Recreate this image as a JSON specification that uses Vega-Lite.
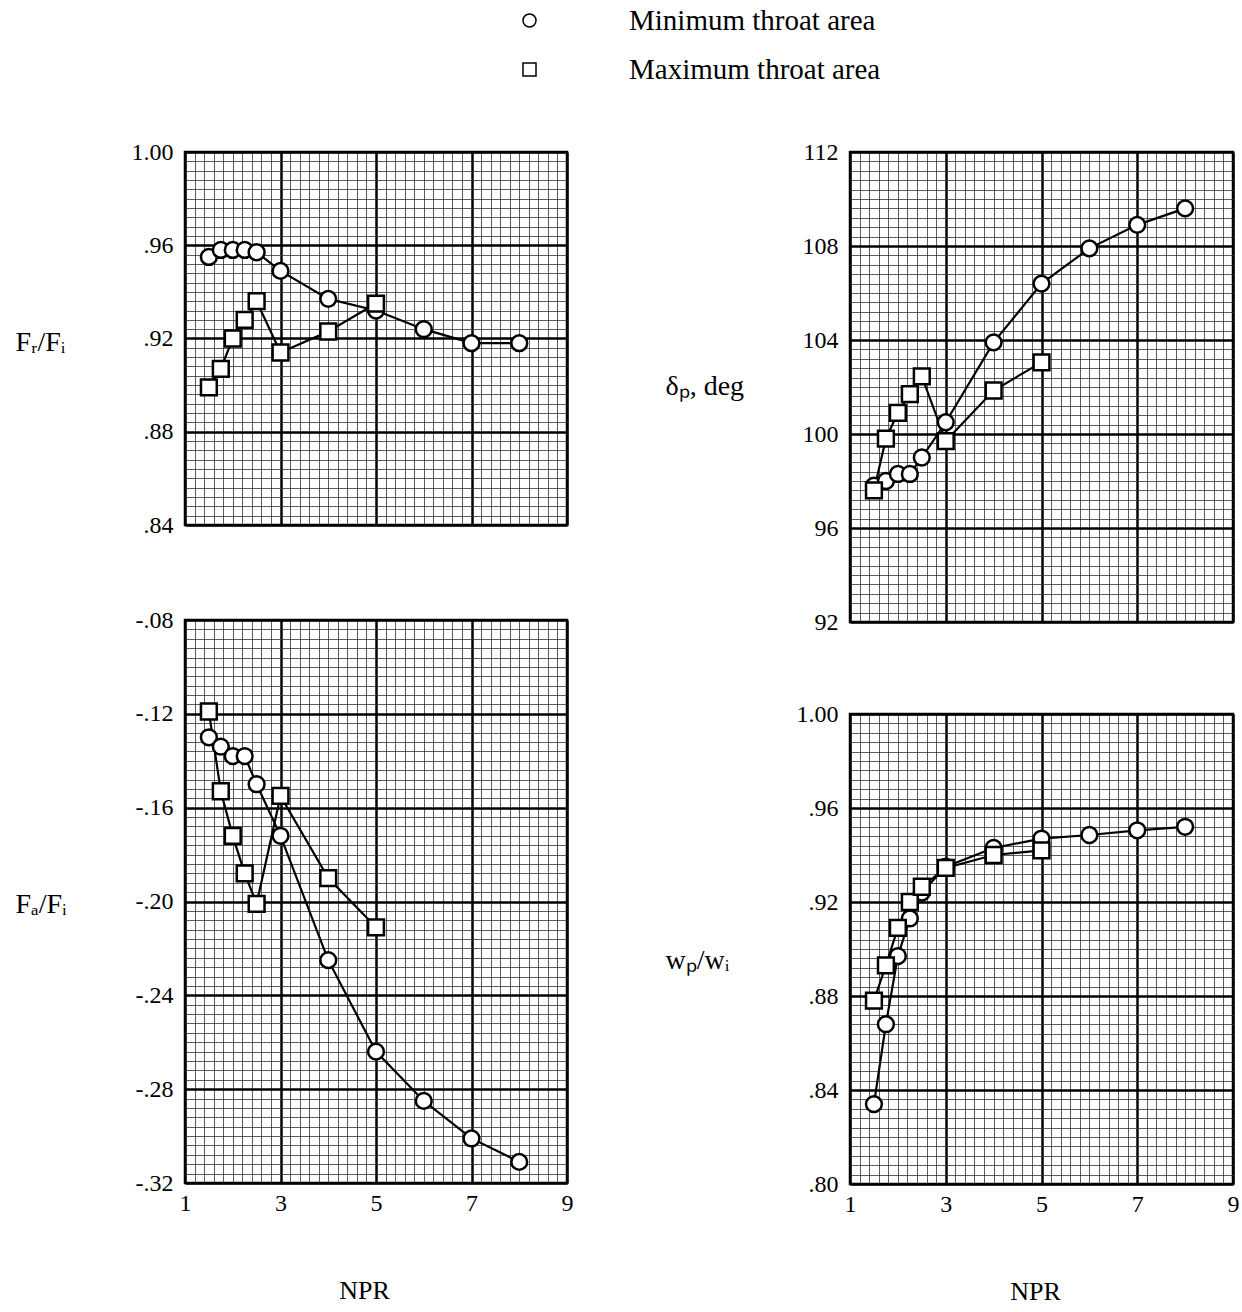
{
  "$schema": "https://vega.github.io/schema/vega-lite/v6.json",
  "background": "white",
  "padding": {"left": 13, "top": 6, "right": 0, "bottom": 0},
  "data": {"values": [
    {"series": "Minimum throat area", "NPR": 1.5, "FrFi": 0.955, "dp": 97.8, "FaFi": -0.130, "wpwi": 0.834},
    {"series": "Minimum throat area", "NPR": 1.75, "FrFi": 0.958, "dp": 98.0, "FaFi": -0.134, "wpwi": 0.868},
    {"series": "Minimum throat area", "NPR": 2.0, "FrFi": 0.958, "dp": 98.3, "FaFi": -0.138, "wpwi": 0.897},
    {"series": "Minimum throat area", "NPR": 2.25, "FrFi": 0.958, "dp": 98.3, "FaFi": -0.138, "wpwi": 0.913},
    {"series": "Minimum throat area", "NPR": 2.5, "FrFi": 0.957, "dp": 99.0, "FaFi": -0.150, "wpwi": 0.924},
    {"series": "Minimum throat area", "NPR": 3, "FrFi": 0.949, "dp": 100.5, "FaFi": -0.172, "wpwi": 0.935},
    {"series": "Minimum throat area", "NPR": 4, "FrFi": 0.937, "dp": 103.9, "FaFi": -0.225, "wpwi": 0.943},
    {"series": "Minimum throat area", "NPR": 5, "FrFi": 0.932, "dp": 106.4, "FaFi": -0.264, "wpwi": 0.947},
    {"series": "Minimum throat area", "NPR": 6, "FrFi": 0.924, "dp": 107.9, "FaFi": -0.285, "wpwi": 0.9485},
    {"series": "Minimum throat area", "NPR": 7, "FrFi": 0.918, "dp": 108.9, "FaFi": -0.301, "wpwi": 0.9505},
    {"series": "Minimum throat area", "NPR": 8, "FrFi": 0.918, "dp": 109.6, "FaFi": -0.311, "wpwi": 0.952},
    {"series": "Maximum throat area", "NPR": 1.5, "FrFi": 0.899, "dp": 97.6, "FaFi": -0.119, "wpwi": 0.878},
    {"series": "Maximum throat area", "NPR": 1.75, "FrFi": 0.907, "dp": 99.8, "FaFi": -0.153, "wpwi": 0.893},
    {"series": "Maximum throat area", "NPR": 2.0, "FrFi": 0.920, "dp": 100.9, "FaFi": -0.172, "wpwi": 0.909},
    {"series": "Maximum throat area", "NPR": 2.25, "FrFi": 0.928, "dp": 101.7, "FaFi": -0.188, "wpwi": 0.920},
    {"series": "Maximum throat area", "NPR": 2.5, "FrFi": 0.936, "dp": 102.45, "FaFi": -0.201, "wpwi": 0.9265},
    {"series": "Maximum throat area", "NPR": 3, "FrFi": 0.914, "dp": 99.7, "FaFi": -0.155, "wpwi": 0.9345},
    {"series": "Maximum throat area", "NPR": 4, "FrFi": 0.923, "dp": 101.85, "FaFi": -0.190, "wpwi": 0.940},
    {"series": "Maximum throat area", "NPR": 5, "FrFi": 0.935, "dp": 103.05, "FaFi": -0.211, "wpwi": 0.942}
  ]},
  "config": {
    "view": {"stroke": "black", "strokeWidth": 2.5},
    "font": "Liberation Serif",
    "axis": {
      "domain": false, "ticks": false, "grid": true,
      "labelFont": "Liberation Serif", "labelFontSize": 24, "labelColor": "black",
      "titleFont": "Liberation Serif", "titleFontSize": 28, "titleFontWeight": "normal", "titleColor": "black",
      "labelFlush": false, "labelOverlap": false, "labelPadding": 12, "gridOpacity": 1
    }
  },
  "hconcat": [
    {
      "vconcat": [
        {
          "width": 382, "height": 373,
          "encoding": {
            "x": {"field": "NPR", "type": "quantitative", "scale": {"domain": [1, 9], "nice": false, "zero": false},
              "axis": {"title": null, "labels": false,
                "values": [1,1.2,1.4,1.6,1.8,2,2.2,2.4,2.6,2.8,3,3.2,3.4,3.6,3.8,4,4.2,4.4,4.6,4.8,5,5.2,5.4,5.6,5.8,6,6.2,6.4,6.6,6.8,7,7.2,7.4,7.6,7.8,8,8.2,8.4,8.6,8.8,9],
                "gridWidth": {"condition": {"test": "abs((datum.value-1)/2 - round((datum.value-1)/2)) < 0.01", "value": 2.5}, "value": 0.8},
                "gridColor": {"condition": {"test": "abs((datum.value-1)/2 - round((datum.value-1)/2)) < 0.01", "value": "black"}, "value": "#333"}}},
            "y": {"field": "FrFi", "type": "quantitative", "scale": {"domain": [0.84, 1.0], "nice": false, "zero": false},
              "axis": {"title": "Fᵣ/Fᵢ", "titleAngle": 0, "titleAlign": "left", "titleBaseline": "middle", "titleX": -170, "titleY": 190,
                "values": [0.84,0.844,0.848,0.852,0.856,0.86,0.864,0.868,0.872,0.876,0.88,0.884,0.888,0.892,0.896,0.9,0.904,0.908,0.912,0.916,0.92,0.924,0.928,0.932,0.936,0.94,0.944,0.948,0.952,0.956,0.96,0.964,0.968,0.972,0.976,0.98,0.984,0.988,0.992,0.996,1.0],
                "labelExpr": "abs(datum.value*25 - round(datum.value*25)) < 0.01 ? replace(replace(format(datum.value, '.2f'), '−', '-'), '0.', '.') : ''",
                "gridWidth": {"condition": {"test": "abs(datum.value*25 - round(datum.value*25)) < 0.01", "value": 2.5}, "value": 0.8},
                "gridColor": {"condition": {"test": "abs(datum.value*25 - round(datum.value*25)) < 0.01", "value": "black"}, "value": "#333"}}}
          },
          "layer": [
            {"mark": {"type": "line", "color": "black", "strokeWidth": 2.2}, "encoding": {"detail": {"field": "series"}}},
            {"mark": {"type": "point", "filled": true, "fill": "white", "stroke": "black", "strokeWidth": 2.5, "size": 250, "opacity": 1},
              "encoding": {"shape": {"field": "series", "type": "nominal",
                "scale": {"domain": ["Minimum throat area", "Maximum throat area"], "range": ["circle", "square"]},
                "legend": {"orient": "none", "legendX": 330, "legendY": -146, "title": null, "direction": "vertical", "padding": 0,
                  "symbolSize": 170, "labelLimit": 600,
                  "labelFont": "Liberation Serif", "labelFontSize": 29, "labelColor": "black", "labelOffset": 85, "rowPadding": 19,
                  "encode": {"symbols": {"update": {"fill": {"value": "white"}, "stroke": {"value": "black"}, "strokeWidth": {"value": 2.5}, "opacity": {"value": 1}}}}}}}}
          ]
        },
        {
          "width": 382, "height": 563,
          "encoding": {
            "x": {"field": "NPR", "type": "quantitative", "scale": {"domain": [1, 9], "nice": false, "zero": false},
              "axis": {"title": "NPR", "titleX": 179, "titleY": 107, "titleBaseline": "middle", "titleAlign": "center", "titleFontSize": 26, "labelPadding": 8,
                "values": [1,1.2,1.4,1.6,1.8,2,2.2,2.4,2.6,2.8,3,3.2,3.4,3.6,3.8,4,4.2,4.4,4.6,4.8,5,5.2,5.4,5.6,5.8,6,6.2,6.4,6.6,6.8,7,7.2,7.4,7.6,7.8,8,8.2,8.4,8.6,8.8,9],
                "labelExpr": "abs((datum.value-1)/2 - round((datum.value-1)/2)) < 0.01 ? format(datum.value, 'd') : ''",
                "gridWidth": {"condition": {"test": "abs((datum.value-1)/2 - round((datum.value-1)/2)) < 0.01", "value": 2.5}, "value": 0.8},
                "gridColor": {"condition": {"test": "abs((datum.value-1)/2 - round((datum.value-1)/2)) < 0.01", "value": "black"}, "value": "#333"}}},
            "y": {"field": "FaFi", "type": "quantitative", "scale": {"domain": [-0.32, -0.08], "nice": false, "zero": false},
              "axis": {"title": "Fₐ/Fᵢ", "titleAngle": 0, "titleAlign": "left", "titleBaseline": "middle", "titleX": -170, "titleY": 284,
                "values": [-0.32,-0.316,-0.312,-0.308,-0.304,-0.3,-0.296,-0.292,-0.288,-0.284,-0.28,-0.276,-0.272,-0.268,-0.264,-0.26,-0.256,-0.252,-0.248,-0.244,-0.24,-0.236,-0.232,-0.228,-0.224,-0.22,-0.216,-0.212,-0.208,-0.204,-0.2,-0.196,-0.192,-0.188,-0.184,-0.18,-0.176,-0.172,-0.168,-0.164,-0.16,-0.156,-0.152,-0.148,-0.144,-0.14,-0.136,-0.132,-0.128,-0.124,-0.12,-0.116,-0.112,-0.108,-0.104,-0.1,-0.096,-0.092,-0.088,-0.084,-0.08],
                "labelExpr": "abs(datum.value*25 - round(datum.value*25)) < 0.01 ? replace(replace(format(datum.value, '.2f'), '−', '-'), '0.', '.') : ''",
                "gridWidth": {"condition": {"test": "abs(datum.value*25 - round(datum.value*25)) < 0.01", "value": 2.5}, "value": 0.8},
                "gridColor": {"condition": {"test": "abs(datum.value*25 - round(datum.value*25)) < 0.01", "value": "black"}, "value": "#333"}}}
          },
          "layer": [
            {"mark": {"type": "line", "color": "black", "strokeWidth": 2.2}, "encoding": {"detail": {"field": "series"}}},
            {"mark": {"type": "point", "filled": true, "fill": "white", "stroke": "black", "strokeWidth": 2.5, "size": 250, "opacity": 1},
              "encoding": {"shape": {"field": "series", "type": "nominal",
                "scale": {"domain": ["Minimum throat area", "Maximum throat area"], "range": ["circle", "square"]},
                "legend": {"orient": "none", "legendX": 330, "legendY": -146, "title": null, "direction": "vertical", "padding": 0,
                  "symbolSize": 170, "labelLimit": 600,
                  "labelFont": "Liberation Serif", "labelFontSize": 29, "labelColor": "black", "labelOffset": 85, "rowPadding": 19,
                  "encode": {"symbols": {"update": {"fill": {"value": "white"}, "stroke": {"value": "black"}, "strokeWidth": {"value": 2.5}, "opacity": {"value": 1}}}}}}}}
          ]
        }
      ],
      "spacing": 95,
      "bounds": "flush"
    },
    {
      "vconcat": [
        {
          "width": 383, "height": 470,
          "encoding": {
            "x": {"field": "NPR", "type": "quantitative", "scale": {"domain": [1, 9], "nice": false, "zero": false},
              "axis": {"title": null, "labels": false,
                "values": [1,1.2,1.4,1.6,1.8,2,2.2,2.4,2.6,2.8,3,3.2,3.4,3.6,3.8,4,4.2,4.4,4.6,4.8,5,5.2,5.4,5.6,5.8,6,6.2,6.4,6.6,6.8,7,7.2,7.4,7.6,7.8,8,8.2,8.4,8.6,8.8,9],
                "gridWidth": {"condition": {"test": "abs((datum.value-1)/2 - round((datum.value-1)/2)) < 0.01", "value": 2.5}, "value": 0.8},
                "gridColor": {"condition": {"test": "abs((datum.value-1)/2 - round((datum.value-1)/2)) < 0.01", "value": "black"}, "value": "#333"}}},
            "y": {"field": "dp", "type": "quantitative", "scale": {"domain": [92, 112], "nice": false, "zero": false},
              "axis": {"title": "δₚ, deg", "titleAngle": 0, "titleAlign": "left", "titleBaseline": "middle", "titleX": -185, "titleY": 234,
                "values": [92,92.4,92.8,93.2,93.6,94,94.4,94.8,95.2,95.6,96,96.4,96.8,97.2,97.6,98,98.4,98.8,99.2,99.6,100,100.4,100.8,101.2,101.6,102,102.4,102.8,103.2,103.6,104,104.4,104.8,105.2,105.6,106,106.4,106.8,107.2,107.6,108,108.4,108.8,109.2,109.6,110,110.4,110.8,111.2,111.6,112],
                "labelExpr": "abs(datum.value/4 - round(datum.value/4)) < 0.01 ? format(datum.value, 'd') : ''",
                "gridWidth": {"condition": {"test": "abs(datum.value/4 - round(datum.value/4)) < 0.01", "value": 2.5}, "value": 0.8},
                "gridColor": {"condition": {"test": "abs(datum.value/4 - round(datum.value/4)) < 0.01", "value": "black"}, "value": "#333"}}}
          },
          "layer": [
            {"mark": {"type": "line", "color": "black", "strokeWidth": 2.2}, "encoding": {"detail": {"field": "series"}}},
            {"mark": {"type": "point", "filled": true, "fill": "white", "stroke": "black", "strokeWidth": 2.5, "size": 250, "opacity": 1},
              "encoding": {"shape": {"field": "series", "type": "nominal",
                "scale": {"domain": ["Minimum throat area", "Maximum throat area"], "range": ["circle", "square"]},
                "legend": {"orient": "none", "legendX": 330, "legendY": -146, "title": null, "direction": "vertical", "padding": 0,
                  "symbolSize": 170, "labelLimit": 600,
                  "labelFont": "Liberation Serif", "labelFontSize": 29, "labelColor": "black", "labelOffset": 85, "rowPadding": 19,
                  "encode": {"symbols": {"update": {"fill": {"value": "white"}, "stroke": {"value": "black"}, "strokeWidth": {"value": 2.5}, "opacity": {"value": 1}}}}}}}}
          ]
        },
        {
          "width": 383, "height": 470,
          "encoding": {
            "x": {"field": "NPR", "type": "quantitative", "scale": {"domain": [1, 9], "nice": false, "zero": false},
              "axis": {"title": "NPR", "titleX": 185, "titleY": 107, "titleBaseline": "middle", "titleAlign": "center", "titleFontSize": 26, "labelPadding": 8,
                "values": [1,1.2,1.4,1.6,1.8,2,2.2,2.4,2.6,2.8,3,3.2,3.4,3.6,3.8,4,4.2,4.4,4.6,4.8,5,5.2,5.4,5.6,5.8,6,6.2,6.4,6.6,6.8,7,7.2,7.4,7.6,7.8,8,8.2,8.4,8.6,8.8,9],
                "labelExpr": "abs((datum.value-1)/2 - round((datum.value-1)/2)) < 0.01 ? format(datum.value, 'd') : ''",
                "gridWidth": {"condition": {"test": "abs((datum.value-1)/2 - round((datum.value-1)/2)) < 0.01", "value": 2.5}, "value": 0.8},
                "gridColor": {"condition": {"test": "abs((datum.value-1)/2 - round((datum.value-1)/2)) < 0.01", "value": "black"}, "value": "#333"}}},
            "y": {"field": "wpwi", "type": "quantitative", "scale": {"domain": [0.8, 1.0], "nice": false, "zero": false},
              "axis": {"title": "wₚ/wᵢ", "titleAngle": 0, "titleAlign": "left", "titleBaseline": "middle", "titleX": -185, "titleY": 246,
                "values": [0.8,0.804,0.808,0.812,0.816,0.82,0.824,0.828,0.832,0.836,0.84,0.844,0.848,0.852,0.856,0.86,0.864,0.868,0.872,0.876,0.88,0.884,0.888,0.892,0.896,0.9,0.904,0.908,0.912,0.916,0.92,0.924,0.928,0.932,0.936,0.94,0.944,0.948,0.952,0.956,0.96,0.964,0.968,0.972,0.976,0.98,0.984,0.988,0.992,0.996,1.0],
                "labelExpr": "abs(datum.value*25 - round(datum.value*25)) < 0.01 ? replace(replace(format(datum.value, '.2f'), '−', '-'), '0.', '.') : ''",
                "gridWidth": {"condition": {"test": "abs(datum.value*25 - round(datum.value*25)) < 0.01", "value": 2.5}, "value": 0.8},
                "gridColor": {"condition": {"test": "abs(datum.value*25 - round(datum.value*25)) < 0.01", "value": "black"}, "value": "#333"}}}
          },
          "layer": [
            {"mark": {"type": "line", "color": "black", "strokeWidth": 2.2}, "encoding": {"detail": {"field": "series"}}},
            {"mark": {"type": "point", "filled": true, "fill": "white", "stroke": "black", "strokeWidth": 2.5, "size": 250, "opacity": 1},
              "encoding": {"shape": {"field": "series", "type": "nominal",
                "scale": {"domain": ["Minimum throat area", "Maximum throat area"], "range": ["circle", "square"]},
                "legend": {"orient": "none", "legendX": 330, "legendY": -146, "title": null, "direction": "vertical", "padding": 0,
                  "symbolSize": 170, "labelLimit": 600,
                  "labelFont": "Liberation Serif", "labelFontSize": 29, "labelColor": "black", "labelOffset": 85, "rowPadding": 19,
                  "encode": {"symbols": {"update": {"fill": {"value": "white"}, "stroke": {"value": "black"}, "strokeWidth": {"value": 2.5}, "opacity": {"value": 1}}}}}}}}
          ]
        }
      ],
      "spacing": 92,
      "bounds": "flush"
    }
  ],
  "spacing": 88
}
